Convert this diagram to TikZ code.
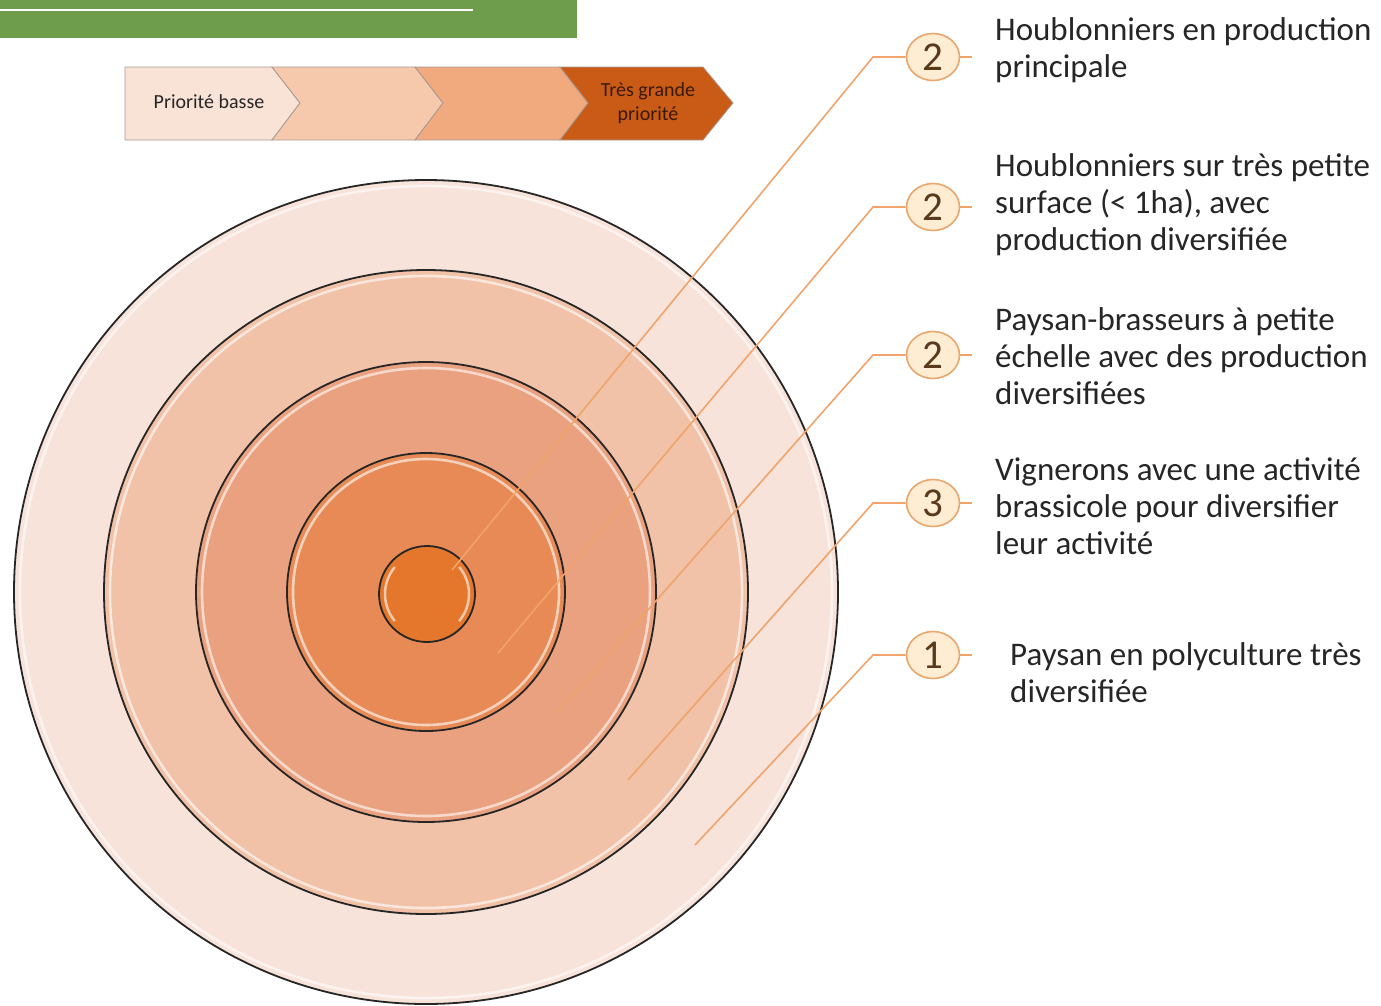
\documentclass[tikz,border=0pt]{standalone}
\usepackage{fontspec}
\setmainfont{Carlito}
\usetikzlibrary{shapes.geometric}
\definecolor{ringa}{HTML}{F8E3DA}
\definecolor{ringb}{HTML}{F1C2A8}
\definecolor{ringc}{HTML}{EAA17F}
\definecolor{ringd}{HTML}{E78A56}
\definecolor{ringe}{HTML}{E5772C}
\definecolor{leadcol}{HTML}{F0A36A}
\definecolor{badgefill}{HTML}{FEEDD3}
\definecolor{badgedraw}{HTML}{E9A66E}
\definecolor{numcol}{HTML}{5A3A1C}
\definecolor{txtcol}{HTML}{262626}
\definecolor{bannercol}{HTML}{6E9E4C}
\definecolor{pa}{HTML}{F9E3D6}
\definecolor{pb}{HTML}{F6C9AC}
\definecolor{pc}{HTML}{F1AA7E}
\definecolor{pd}{HTML}{C95B16}
\definecolor{pedge}{HTML}{A89A92}
\definecolor{darktext}{HTML}{3A1A05}
\tikzset{
  ringline/.style={draw=black!85, line width=1.8pt},
  ringglow/.style={draw=white, line width=2.6pt, opacity=0.6},
  leader/.style={draw=leadcol, line width=1.6pt},
  badge/.style={ellipse, draw=badgedraw, fill=badgefill, line width=1.6pt,
    minimum width=53pt, minimum height=47pt, inner sep=0pt,
    font=\fontsize{41}{41}\selectfont, text=numcol},
  label/.style={anchor=north west, inner sep=0pt, align=left, text=txtcol,
    font=\fontsize{33}{37}\selectfont},
  chev/.style={draw=pedge, line width=0.8pt},
}
\begin{document}
\begin{tikzpicture}[x=1pt,y=-1pt]
\useasboundingbox (0,0) rectangle (1381,1005);
% banner
\fill[bannercol] (0,0) rectangle (577,38);
\draw[white, line width=2.5pt] (0,10) -- (473,10);
% priority bar
\filldraw[chev, fill=pa] (125,67) -- (272,67) -- (300,103) -- (272,140) -- (125,140) -- cycle;
\filldraw[chev, fill=pb] (272,67) -- (415,67) -- (443,103) -- (415,140) -- (272,140) -- (300,103) -- cycle;
\filldraw[chev, fill=pc] (415,67) -- (560,67) -- (588,103) -- (560,140) -- (415,140) -- (443,103) -- cycle;
\filldraw[chev, fill=pd] (560,67) -- (703,67) -- (733,103) -- (703,140) -- (560,140) -- (588,103) -- cycle;
\node[font=\fontsize{20}{22}\selectfont, text=black!85] (plow) at (209,102) {Priorité basse};
\node[font=\fontsize{20}{24}\selectfont, text=darktext, align=center] (phigh) at (648,103) {Très grande\\priorité};
% rings
\coordinate (c) at (426,592);
\fill[ringa] (c) circle[radius=412pt];
\draw[ringglow] (c) circle[radius=406pt];
\draw[ringline] (c) circle[radius=412pt];
\fill[ringb] (c) circle[radius=322pt];
\draw[ringglow] (c) circle[radius=316pt];
\draw[ringline] (c) circle[radius=322pt];
\fill[ringc] (c) circle[radius=230pt];
\draw[ringglow] (c) circle[radius=224pt];
\draw[ringline] (c) circle[radius=230pt];
\fill[ringd] (c) circle[radius=139pt];
\draw[ringglow] (c) circle[radius=133pt];
\draw[ringline] (c) circle[radius=139pt];
\coordinate (ci) at (427,594);
\fill[ringe] (ci) circle[radius=48pt];
\draw[white, line width=2.5pt, opacity=0.6] (ci) ++(-40:42pt) arc[start angle=-40, end angle=40, radius=42pt];
\draw[white, line width=2.5pt, opacity=0.6] (ci) ++(140:42pt) arc[start angle=140, end angle=220, radius=42pt];
\draw[ringline] (ci) circle[radius=48pt];
% badges
\node[badge] (b1) at (933,57) {2};
\node[badge] (b2) at (933,207) {2};
\node[badge] (b3) at (933,355) {2};
\node[badge] (b4) at (933,503) {3};
\node[badge] (b5) at (933,655) {1};
% leader points
\coordinate (k1) at (873,57);  \coordinate (e1) at (452,570);
\coordinate (k2) at (873,207); \coordinate (e2) at (498,653);
\coordinate (k3) at (873,355); \coordinate (e3) at (557,713);
\coordinate (k4) at (873,503); \coordinate (e4) at (628,780);
\coordinate (k5) at (873,655); \coordinate (e5) at (695,845);
\foreach \i in {1,...,5} {
  \draw[leader] (b\i.west) -- (k\i) -- (e\i);
  \draw[leader] (b\i.east) -- ++(12,0) coordinate (s\i);
}
% labels
\node[label] (t1) at (995,17) {Houblonniers en production\\principale};
\node[label] (t2) at (995,153) {Houblonniers sur très petite\\surface (< 1ha), avec\\production diversifiée};
\node[label] (t3) at (995,307) {Paysan-brasseurs à petite\\échelle avec des production\\diversifiées};
\node[label] (t4) at (995,457) {Vignerons avec une activité\\brassicole pour diversifier\\leur activité};
\node[label] (t5) at (1010,642) {Paysan en polyculture très\\diversifiée};
\end{tikzpicture}
\end{document}
